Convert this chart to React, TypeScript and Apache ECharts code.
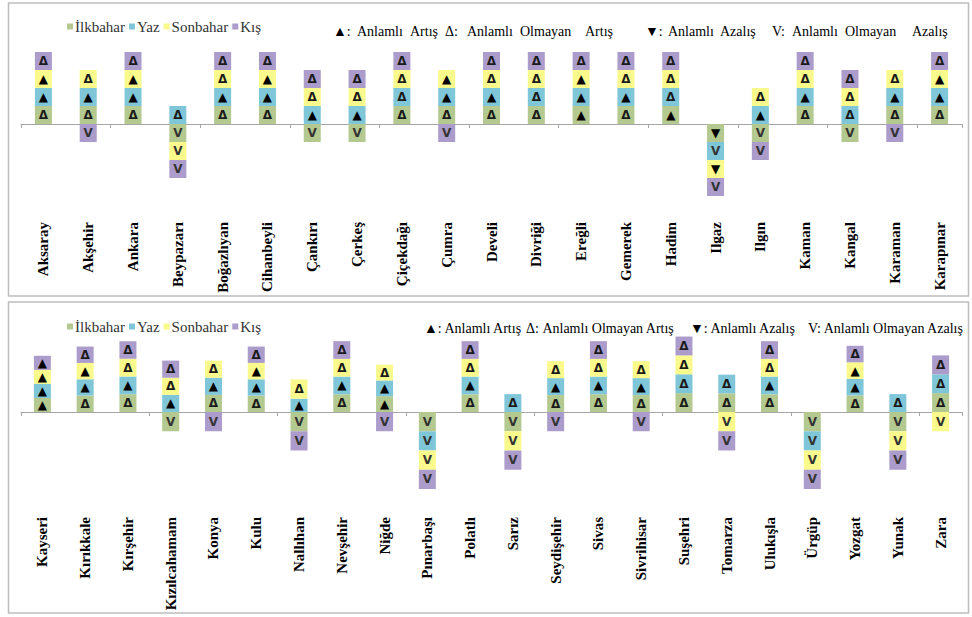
import React, { useEffect, useRef } from "react";
import * as echarts from "echarts";

const seasons = ["İlkbahar", "Yaz", "Sonbahar", "Kış"];
const seasonColors = ["#b3c98f", "#7fc6d8", "#fafa8c", "#ab9ccb"];

// ---------- Top panel ----------
const topStations = [
  "Aksaray", "Akşehir", "Ankara", "Beypazarı", "Boğazlıyan", "Cihanbeyli", "Çankırı",
  "Çerkeş", "Çiçekdağı", "Çumra", "Develi", "Divriği", "Ereğli", "Gemerek", "Hadim",
  "Ilgaz", "Ilgın", "Kaman", "Kangal", "Karaman", "Karapınar",
];
const topIlkbaharSym = ["Δ", "Δ", "Δ", "V", "Δ", "Δ", "V", "V", "Δ", "Δ", "Δ", "Δ", "▲", "Δ", "▲", "▼", "V", "Δ", "V", "Δ", "Δ"];
const topYazSym = ["▲", "▲", "▲", "Δ", "▲", "▲", "▲", "▲", "Δ", "▲", "▲", "Δ", "▲", "▲", "Δ", "V", "▲", "▲", "Δ", "▲", "▲"];
const topSonbaharSym = ["▲", "Δ", "▲", "V", "Δ", "▲", "Δ", "Δ", "Δ", "▲", "Δ", "Δ", "▲", "Δ", "Δ", "▼", "Δ", "Δ", "Δ", "Δ", "▲"];
const topKisSym = ["Δ", "V", "Δ", "V", "Δ", "Δ", "Δ", "Δ", "Δ", "V", "Δ", "Δ", "Δ", "Δ", "Δ", "V", "V", "Δ", "Δ", "V", "Δ"];
const topIlkbahar = [1, 1, 1, -1, 1, 1, -1, -1, 1, 1, 1, 1, 1, 1, 1, -1, -1, 1, -1, 1, 1];
const topYaz = [1, 1, 1, 1, 1, 1, 1, 1, 1, 1, 1, 1, 1, 1, 1, -1, 1, 1, 1, 1, 1];
const topSonbahar = [1, 1, 1, -1, 1, 1, 1, 1, 1, 1, 1, 1, 1, 1, 1, -1, 1, 1, 1, 1, 1];
const topKis = [1, -1, 1, -1, 1, 1, 1, 1, 1, -1, 1, 1, 1, 1, 1, -1, -1, 1, 1, -1, 1];

// ---------- Bottom panel ----------
const bottomStations = [
  "Kayseri", "Kırıkkale", "Kırşehir", "Kızılcahamam", "Konya", "Kulu", "Nallıhan",
  "Nevşehir", "Niğde", "Pınarbaşı", "Polatlı", "Sarız", "Seydişehir", "Sivas",
  "Sivrihisar", "Suşehri", "Tomarza", "Ulukışla", "Ürgüp", "Yozgat", "Yunak", "Zara",
];
const bottomIlkbaharSym = ["▲", "Δ", "Δ", "V", "Δ", "Δ", "V", "Δ", "▲", "V", "Δ", "V", "Δ", "Δ", "Δ", "Δ", "Δ", "Δ", "V", "Δ", "V", "Δ"];
const bottomYazSym = ["▲", "▲", "▲", "▲", "▲", "▲", "▲", "▲", "▲", "V", "▲", "Δ", "▲", "▲", "▲", "Δ", "Δ", "▲", "V", "▲", "Δ", "Δ"];
const bottomSonbaharSym = ["▲", "▲", "Δ", "Δ", "Δ", "▲", "Δ", "Δ", "Δ", "V", "Δ", "V", "Δ", "Δ", "Δ", "Δ", "V", "Δ", "V", "▲", "V", "V"];
const bottomKisSym = ["▲", "Δ", "Δ", "Δ", "V", "Δ", "V", "Δ", "V", "V", "Δ", "V", "V", "Δ", "V", "Δ", "V", "Δ", "V", "Δ", "V", "Δ"];
const bottomIlkbahar = [0.73, 0.85, 0.92, -1, 0.89, 0.85, -1, 0.92, 0.82, -1, 0.92, -1, 0.88, 0.92, 0.88, 0.98, 0.97, 0.92, -1, 0.86, -1, 0.98];
const bottomYaz = [0.73, 0.85, 0.92, 0.89, 0.89, 0.85, 0.69, 0.92, 0.82, -1, 0.92, 0.93, 0.88, 0.92, 0.88, 0.98, 0.97, 0.92, -1, 0.86, 0.93, 0.98];
const bottomSonbahar = [0.73, 0.85, 0.92, 0.89, 0.89, 0.85, 1.0, 0.92, 0.82, -1, 0.92, -1, 0.88, 0.92, 0.88, 0.98, -1, 0.92, -1, 0.86, -1, -1];
const bottomKis = [0.73, 0.85, 0.92, 0.89, -1, 0.85, -1, 0.92, -1, -1, 0.92, -1, -1, 0.92, -1, 0.98, -1, 0.92, -1, 0.86, -1, 0.98];

// Explanation of symbols
const topKeyWords: [string, number][] = [
  ["▲:", 333], ["Anlamlı", 357], ["Artış", 410],
  ["Δ:", 445], ["Anlamlı", 467], ["Olmayan", 520], ["Artış", 585],
  ["▼:", 645], ["Anlamlı", 668], ["Azalış", 720],
  ["V:", 772], ["Anlamlı", 792], ["Olmayan", 845], ["Azalış", 912],
];
const bottomKeyPhrases: [string, number][] = [
  ["▲: Anlamlı Artış", 424],
  ["Δ: Anlamlı Olmayan Artış", 526],
  ["▼: Anlamlı Azalış", 690],
  ["V: Anlamlı Olmayan Azalış", 808],
];

const serif = "Liberation Serif";

function symColor(s: string) {
  if (s === "▲" || s === "▼") return "#000";
  if (s === "Δ") return "#1a1a1a";
  return "#333";
}

function makeSeries(
  values: number[][],
  syms: string[][],
  axisIdx: number,
  yIdx: number,
  stack: string
) {
  return values.map((vals, i) => ({
    name: seasons[i],
    type: "bar",
    stack,
    xAxisIndex: axisIdx,
    yAxisIndex: yIdx,
    barWidth: 17,
    itemStyle: { color: seasonColors[i] },
    label: {
      show: true,
      position: "inside",
      fontFamily: "DejaVu Sans",
      fontWeight: "bold",
      fontSize: 12,
      formatter: (p: any) => syms[i][p.dataIndex],
    },
    data: vals.map((v, j) => ({
      value: v,
      label: { color: symColor(syms[i][j]) },
    })),
  }));
}

export default function App() {
  const ref = useRef<HTMLDivElement>(null);

  useEffect(() => {
    if (!ref.current) return;
    const chart = echarts.init(ref.current, undefined, { renderer: "svg" });

    const lineAxis = (grid: number, data: string[]) => ({
      type: "category",
      gridIndex: grid,
      data,
      position: "bottom",
      axisLine: { show: true, onZero: true, lineStyle: { color: "#a6a6a6", width: 1 } },
      axisTick: { show: true, length: 4, lineStyle: { color: "#a6a6a6" } },
      axisLabel: { show: false },
      splitLine: { show: false },
    });
    const labelAxis = (grid: number, data: string[], margin: number) => ({
      type: "category",
      gridIndex: grid,
      data,
      position: "bottom",
      axisLine: { show: false, onZero: false },
      axisTick: { show: false },
      axisLabel: {
        show: true,
        rotate: 90,
        margin,
        interval: 0,
        fontFamily: serif,
        fontWeight: "bold",
        fontSize: 15,
        color: "#000",
      },
      splitLine: { show: false },
    });

    const legendCommon = {
      left: 67,
      padding: 0,
      itemWidth: 6,
      itemHeight: 6,
      itemGap: 4,
      icon: "rect",
      data: seasons,
      selectedMode: false,
      textStyle: {
        fontFamily: serif,
        fontSize: 15,
        color: "#333",
        padding: [0, 0, 0, -3],
      },
    };

    const graphics: any[] = [
      {
        type: "rect",
        shape: { x: 8.5, y: 3, width: 960, height: 293 },
        style: { fill: "none", stroke: "#bdbdbd", lineWidth: 1.5 },
        silent: true,
      },
      {
        type: "rect",
        shape: { x: 8.5, y: 302, width: 960, height: 311 },
        style: { fill: "none", stroke: "#bdbdbd", lineWidth: 1.5 },
        silent: true,
      },
    ];
    const keyStyle = (text: string) => ({
      text,
      fontFamily: serif,
      fontSize: 14,
      fill: "#000",
      verticalAlign: "middle",
      align: "left",
    });
    topKeyWords.forEach(([w, x]) => {
      graphics.push({ type: "text", x, y: 31, silent: true, style: keyStyle(w) });
    });
    bottomKeyPhrases.forEach(([w, x]) => {
      graphics.push({ type: "text", x, y: 328, silent: true, style: keyStyle(w) });
    });

    chart.setOption({
      animation: false,
      backgroundColor: "#fff",
      grid: [
        { left: 21, right: 10, top: 52, bottom: 421, containLabel: false },
        { left: 21, right: 10, top: 335, bottom: 128, containLabel: false },
      ],
      legend: [
        { ...legendCommon, top: 19 },
        { ...legendCommon, top: 319 },
      ],
      xAxis: [
        lineAxis(0, topStations),
        labelAxis(0, topStations, 26),
        lineAxis(1, bottomStations),
        labelAxis(1, bottomStations, 28),
      ],
      yAxis: [
        { type: "value", gridIndex: 0, min: -4, max: 4, show: false, splitLine: { show: false } },
        { type: "value", gridIndex: 1, min: -4, max: 4, show: false, splitLine: { show: false } },
      ],
      graphic: graphics,
      series: [
        ...makeSeries(
          [topIlkbahar, topYaz, topSonbahar, topKis],
          [topIlkbaharSym, topYazSym, topSonbaharSym, topKisSym],
          0,
          0,
          "top"
        ),
        ...makeSeries(
          [bottomIlkbahar, bottomYaz, bottomSonbahar, bottomKis],
          [bottomIlkbaharSym, bottomYazSym, bottomSonbaharSym, bottomKisSym],
          2,
          1,
          "bottom"
        ),
      ],
    });

    return () => chart.dispose();
  }, []);

  return (
    <div
      style={{
        position: "fixed",
        left: 0,
        top: 0,
        width: 972,
        height: 617,
        background: "#fff",
      }}
    >
      <div ref={ref} style={{ width: 972, height: 617 }} />
    </div>
  );
}
